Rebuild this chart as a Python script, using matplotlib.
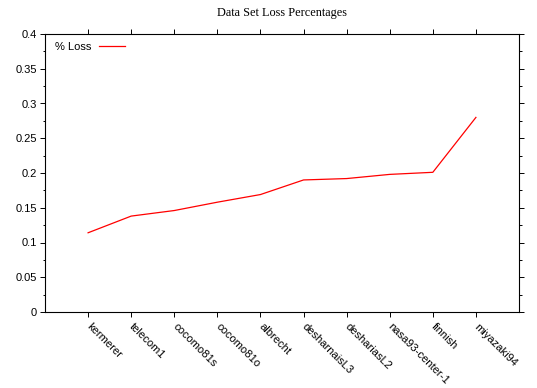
import numpy as np
import matplotlib
matplotlib.use("Agg")
import matplotlib.pyplot as plt
from matplotlib.ticker import MultipleLocator
import matplotlib.transforms as mtransforms

datasets = ["kermerer", "telecom1", "cocomo81s", "cocomo81o", "albrecht",
            "desharnaisL3", "deshariasL2", "nasa93-center-1", "finnish", "miyazaki94"]
loss = [0.114, 0.138, 0.146, 0.158, 0.169, 0.190, 0.192, 0.198, 0.201, 0.280]

plt.rcParams['font.family'] = ['Liberation Sans', 'DejaVu Sans']

fig = plt.figure(figsize=(5.37, 3.88), dpi=100)
ax = fig.add_axes([45/537, 1 - 312/388, (519-45)/537, (312-34)/388])

x = np.arange(1, len(datasets) + 1)
ax.plot(x, loss, color="red", linewidth=0.9, label="% Loss")

ax.set_xlim(0, 11)
ax.set_ylim(0, 0.4)
ax.set_xticks(x)
ax.set_xticklabels(datasets, rotation=-45, ha="left", va="center",
                   rotation_mode="anchor", fontsize=8)
offset = mtransforms.ScaledTranslation(2/100, 0, fig.dpi_scale_trans)
for lbl in ax.get_xticklabels():
    lbl.set_transform(lbl.get_transform() + offset)
ax.yaxis.set_major_locator(MultipleLocator(0.05))
ax.yaxis.set_minor_locator(MultipleLocator(0.025))
ax.set_yticks(np.arange(0, 0.41, 0.05))
ax.set_yticklabels(["0", "0.05", "0.1", "0.15", "0.2", "0.25", "0.3", "0.35", "0.4"])

ax.tick_params(axis="both", which="major", direction="out", length=3.6, width=0.7,
               labelsize=8, top=True, right=True, pad=2)
ax.tick_params(axis="y", which="minor", direction="out", length=1.8, width=0.7, right=True)
ax.tick_params(axis="x", which="major", pad=6)
for s in ax.spines.values():
    s.set_linewidth(0.8)

ax.legend(loc="upper left", markerfirst=False, frameon=False, fontsize=8,
          handlelength=2.3, handletextpad=0.7, borderaxespad=0.3,
          bbox_to_anchor=(0.005, 1.0))

fig.suptitle("Data Set Loss Percentages", x=(45+519)/2/537, y=1 - 13/388,
             va="center", fontsize=8.8, family="Liberation Serif")

fig.savefig("out.png", dpi=100)
